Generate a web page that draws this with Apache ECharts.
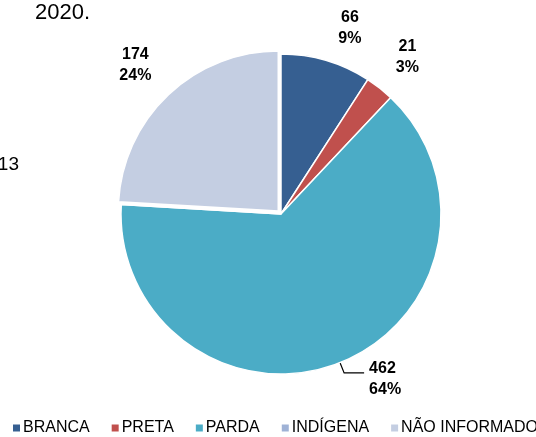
<!DOCTYPE html>
<html>
<head>
<meta charset="utf-8">
<script src="https://cdn.jsdelivr.net/npm/echarts@6/dist/echarts.min.js"></script>
<style>html,body{margin:0;padding:0;background:#fff}#c{width:536px;height:437px}</style>
</head>
<body>
<div id="c"></div>
<script>
const categories = ['BRANCA', 'PRETA', 'PARDA', 'INDÍGENA', 'NÃO INFORMADO'];
const values = [66, 21, 462, 0, 174];
const colors = ['#365F91', '#C0504D', '#4BACC6', '#9FB2D6', '#C4CEE2'];

const FONT = '"Liberation Sans", Arial, sans-serif';
// per-slice label line lengths
const lineLen = [34, 40, 11, 0, 41];
const lineLen2 = [14, 3, 20, 0, 5];

const data = categories.map((name, i) => {
  const item = {
    name: name,
    value: values[i],
    itemStyle: { color: colors[i] },
    labelLine: { show: i === 2, length: lineLen[i], length2: lineLen2[i] }
  };
  if (values[i] === 0) item.label = { show: false };
  if (i === 4) item.selected = true;
  return item;
});

const chart = echarts.init(document.getElementById('c'), null, { renderer: 'canvas' });
chart.setOption({
  animation: false,
  graphic: [
    { type: 'text', left: 35, top: 2, style: { text: '2020.', font: '22px ' + FONT, fill: '#000' } },
    { type: 'text', x: 19, y: 165, style: { text: '13', font: '19px ' + FONT, fill: '#000', align: 'right', verticalAlign: 'middle' } }
  ],
  legend: {
    data: categories,
    left: 11,
    top: 420,
    width: 640,
    padding: 0,
    itemWidth: 9,
    itemHeight: 9,
    itemGap: 20,
    icon: 'rect',
    textStyle: { fontSize: 16, fontFamily: FONT, color: '#000', padding: [0, 0, 0, -3] }
  },
  series: [{
    type: 'pie',
    center: [281, 214],
    radius: [0, 160],
    startAngle: 90,
    clockwise: true,
    avoidLabelOverlap: false,
    selectedMode: 'single',
    selectedOffset: 4,
    percentPrecision: 0,
    itemStyle: { borderColor: '#fff', borderWidth: 1.5 },
    label: {
      show: true,
      position: 'outside',
      formatter: '{c}\n{d}%',
      fontFamily: FONT,
      fontSize: 16,
      fontWeight: 'bold',
      lineHeight: 21,
      color: '#000',
      distanceToLabelLine: 0
    },
    labelLine: { lineStyle: { color: '#000', width: 1.2 } },
    labelLayout: function (p) {
      if (p.dataIndex === 2) return { align: 'left', dx: 5, dy: 6 };
      return { align: 'center' };
    },
    emphasis: { disabled: true },
    data: data
  }]
});
</script>
</body>
</html>
